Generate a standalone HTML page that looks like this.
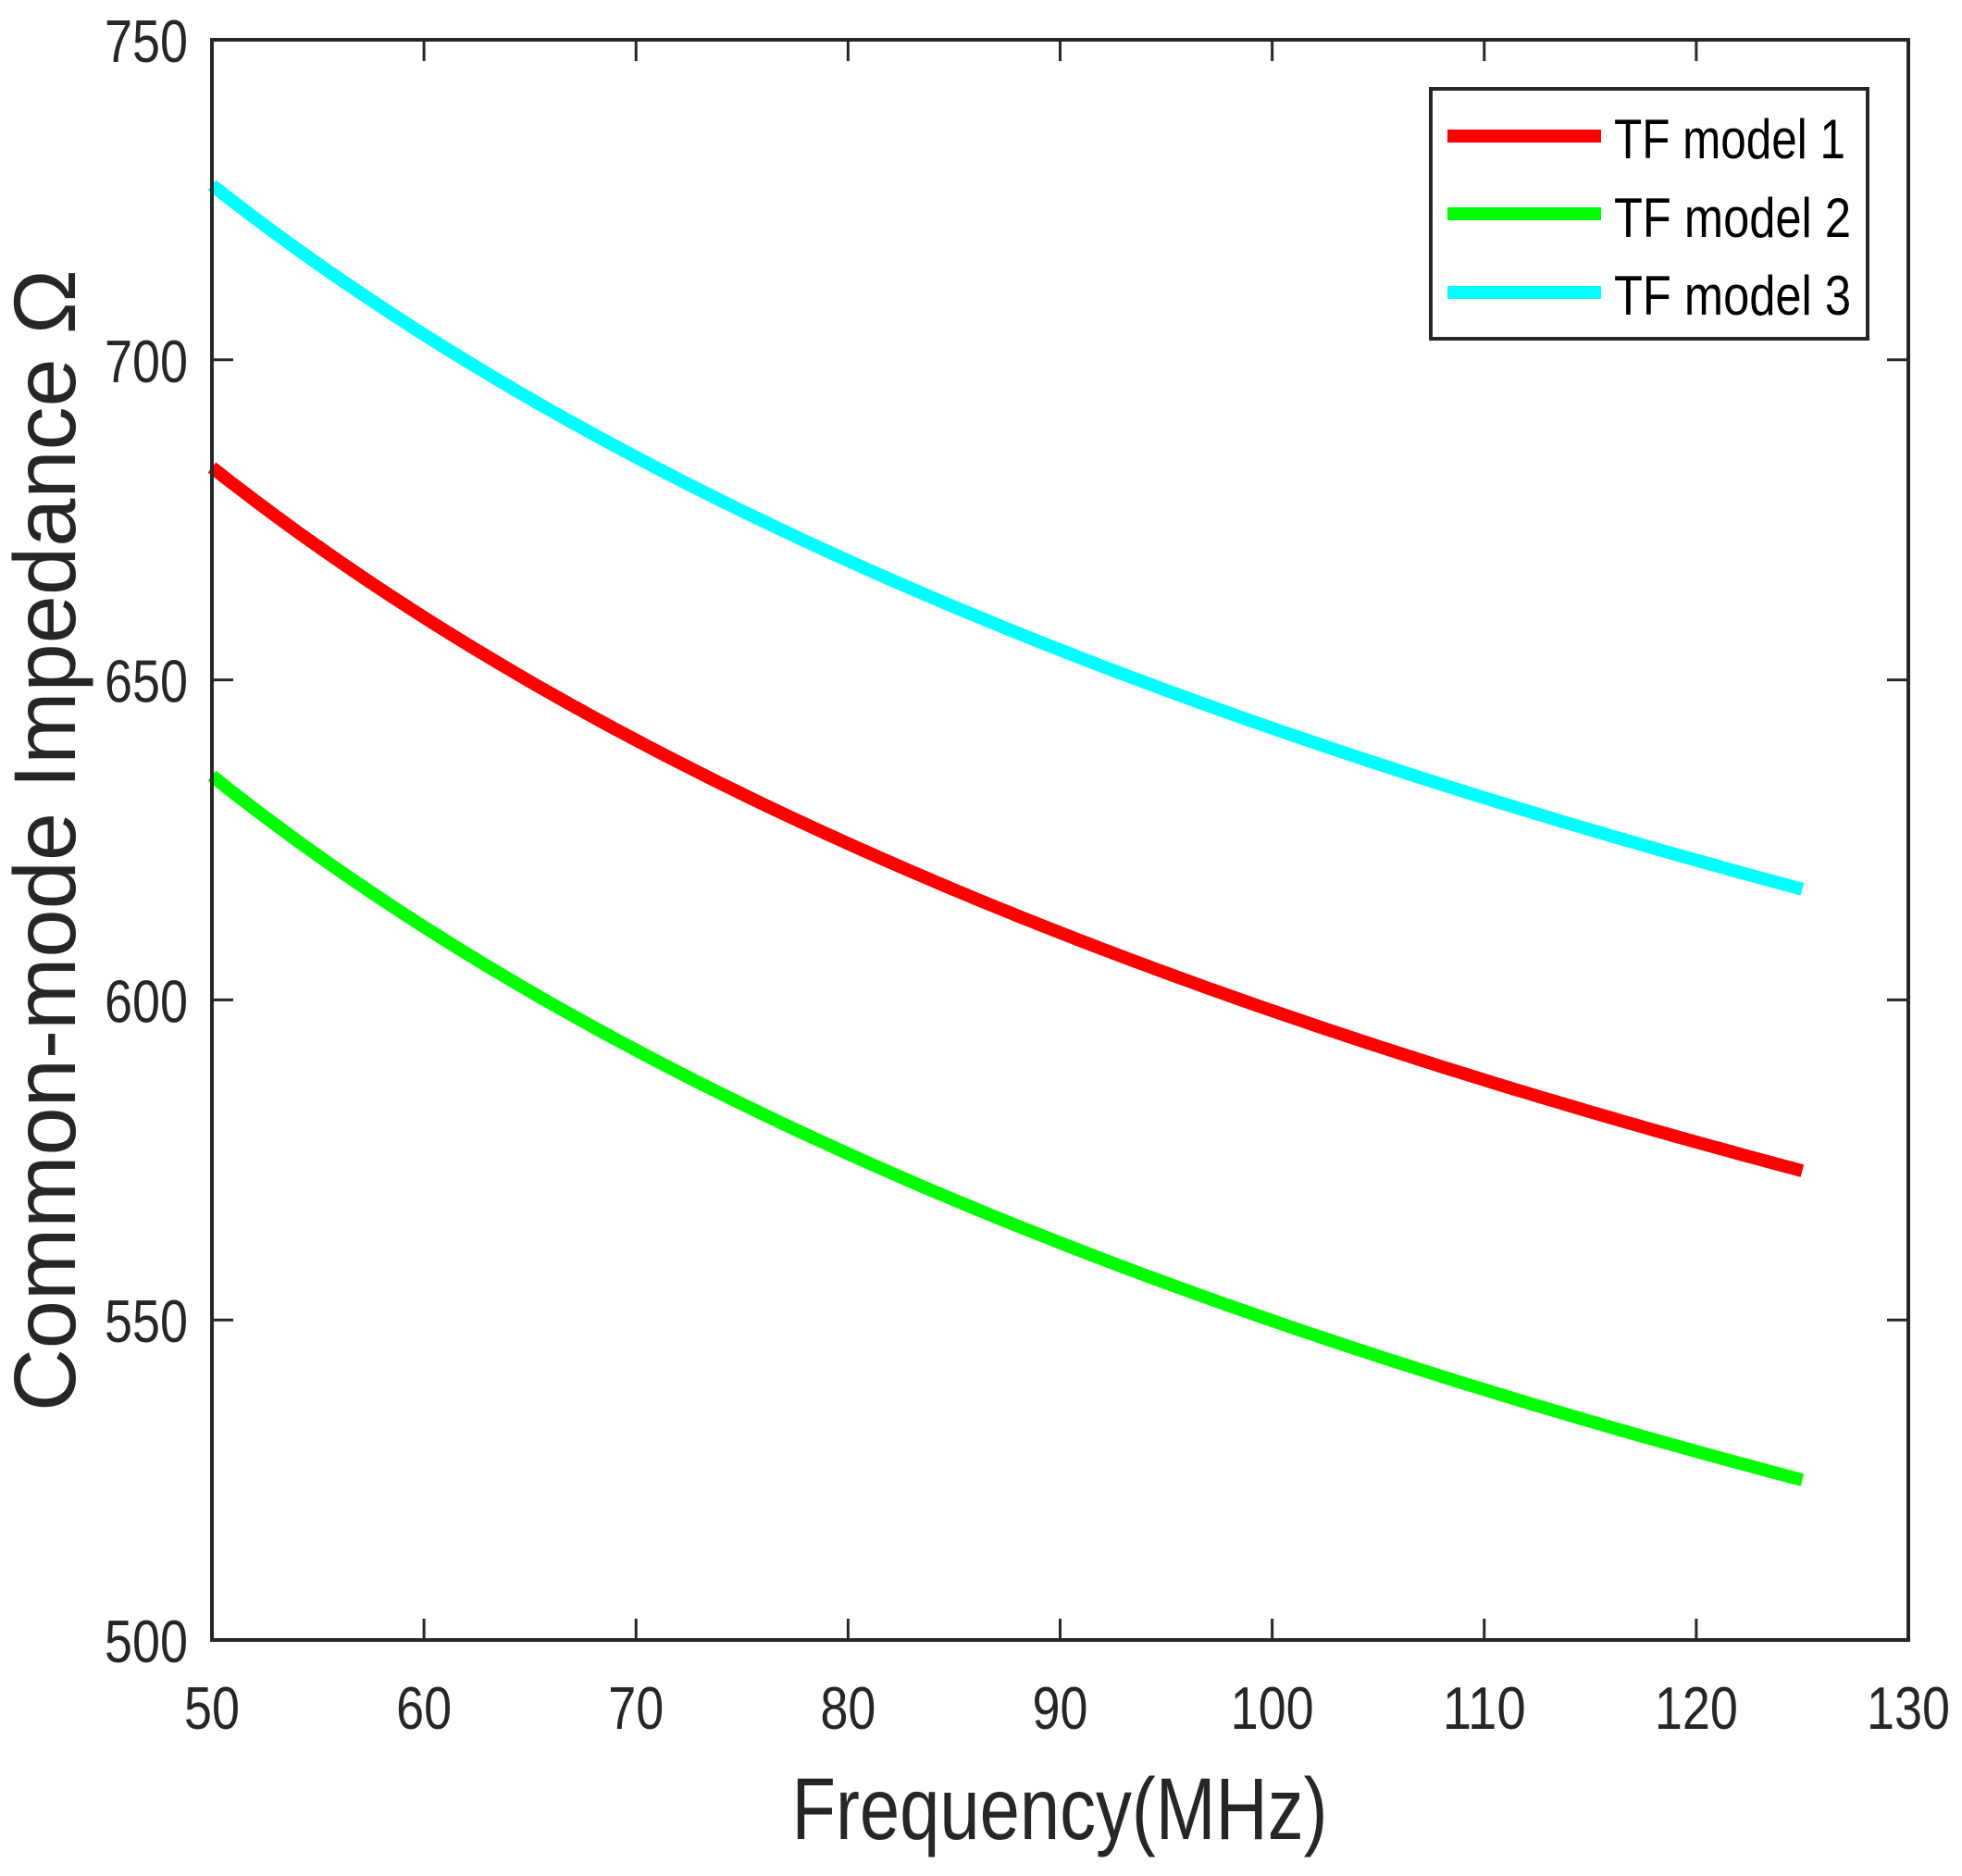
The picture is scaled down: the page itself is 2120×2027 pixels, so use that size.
<!DOCTYPE html>
<html><head><meta charset="utf-8"><style>
html,body{margin:0;padding:0;background:#fff;}
svg{display:block;}
text{font-family:"Liberation Sans",sans-serif;fill:#262626;}
</style></head><body>
<svg id="s" width="2120" height="2027" viewBox="0 0 2120 2027" xmlns="http://www.w3.org/2000/svg">
<rect width="2120" height="2027" fill="#fff"/>
<g id="ticks" stroke="#262626" stroke-width="3"></g>
<g id="curves" fill="none" stroke-width="14" stroke-linejoin="round"></g>
<rect x="229" y="43" width="1833" height="1729" fill="none" stroke="#262626" stroke-width="4"/>
<g id="labels" font-size="65"></g>
<text x="1145" y="1987" font-size="95" text-anchor="middle" textLength="579" lengthAdjust="spacingAndGlyphs">Frequency(MHz)</text>
<text transform="translate(81,908) rotate(-90)" font-size="95" text-anchor="middle" textLength="1234" lengthAdjust="spacingAndGlyphs">Common-mode Impedance Ω</text>
<rect x="1546" y="96" width="472" height="270" fill="#fff" stroke="#262626" stroke-width="4"/>
<line x1="1564" y1="147" x2="1730" y2="147" stroke="#ff0000" stroke-width="14"/>
<line x1="1564" y1="231" x2="1730" y2="231" stroke="#00ff00" stroke-width="14"/>
<line x1="1564" y1="316" x2="1730" y2="316" stroke="#00ffff" stroke-width="14"/>
<g font-size="60">
<text x="1744" y="171" textLength="250" lengthAdjust="spacingAndGlyphs" style="fill:#000">TF model 1</text>
<text x="1744" y="256" textLength="256" lengthAdjust="spacingAndGlyphs" style="fill:#000">TF model 2</text>
<text x="1744" y="340" textLength="256" lengthAdjust="spacingAndGlyphs" style="fill:#000">TF model 3</text>
</g>
</svg>
<script>
var NS="http://www.w3.org/2000/svg";
function X(f){return 229+(f-50)*1833/80;}
function Y(v){return 1772-(v-500)*1729/250;}
var t=document.getElementById("ticks"),lb=document.getElementById("labels"),c=document.getElementById("curves");
function el(p,n,a,txt){var e=document.createElementNS(NS,n);for(var k in a)e.setAttribute(k,a[k]);if(txt)e.textContent=txt;p.appendChild(e);return e;}
for(var f=50;f<=130;f+=10){var x=X(f);
 el(t,"line",{x1:x,y1:1772,x2:x,y2:1749});el(t,"line",{x1:x,y1:43,x2:x,y2:66});
 var s=String(f);el(lb,"text",{x:x,y:1868,"text-anchor":"middle",textLength:s.length*30,lengthAdjust:"spacingAndGlyphs"},s);}
for(var v=500;v<=750;v+=50){var y=Y(v);
 el(t,"line",{x1:229,y1:y,x2:252,y2:y});el(t,"line",{x1:2062,y1:y,x2:2039,y2:y});
 el(lb,"text",{x:203,y:y+24,"text-anchor":"end",textLength:90,lengthAdjust:"spacingAndGlyphs"},String(v));}
var series=[["#ff0000",683.2,573.3],["#00ff00",635,525],["#00ffff",727.3,617.3]];
series.forEach(function(sr){var p=Math.log(sr[1]/sr[2])/Math.log(125/50),pts=[];
 for(var f=50;f<=125.001;f+=0.5){pts.push(X(f).toFixed(1)+","+Y(sr[1]*Math.pow(f/50,-p)).toFixed(1));}
 el(c,"polyline",{points:pts.join(" "),stroke:sr[0]});});
</script>
</body></html>
